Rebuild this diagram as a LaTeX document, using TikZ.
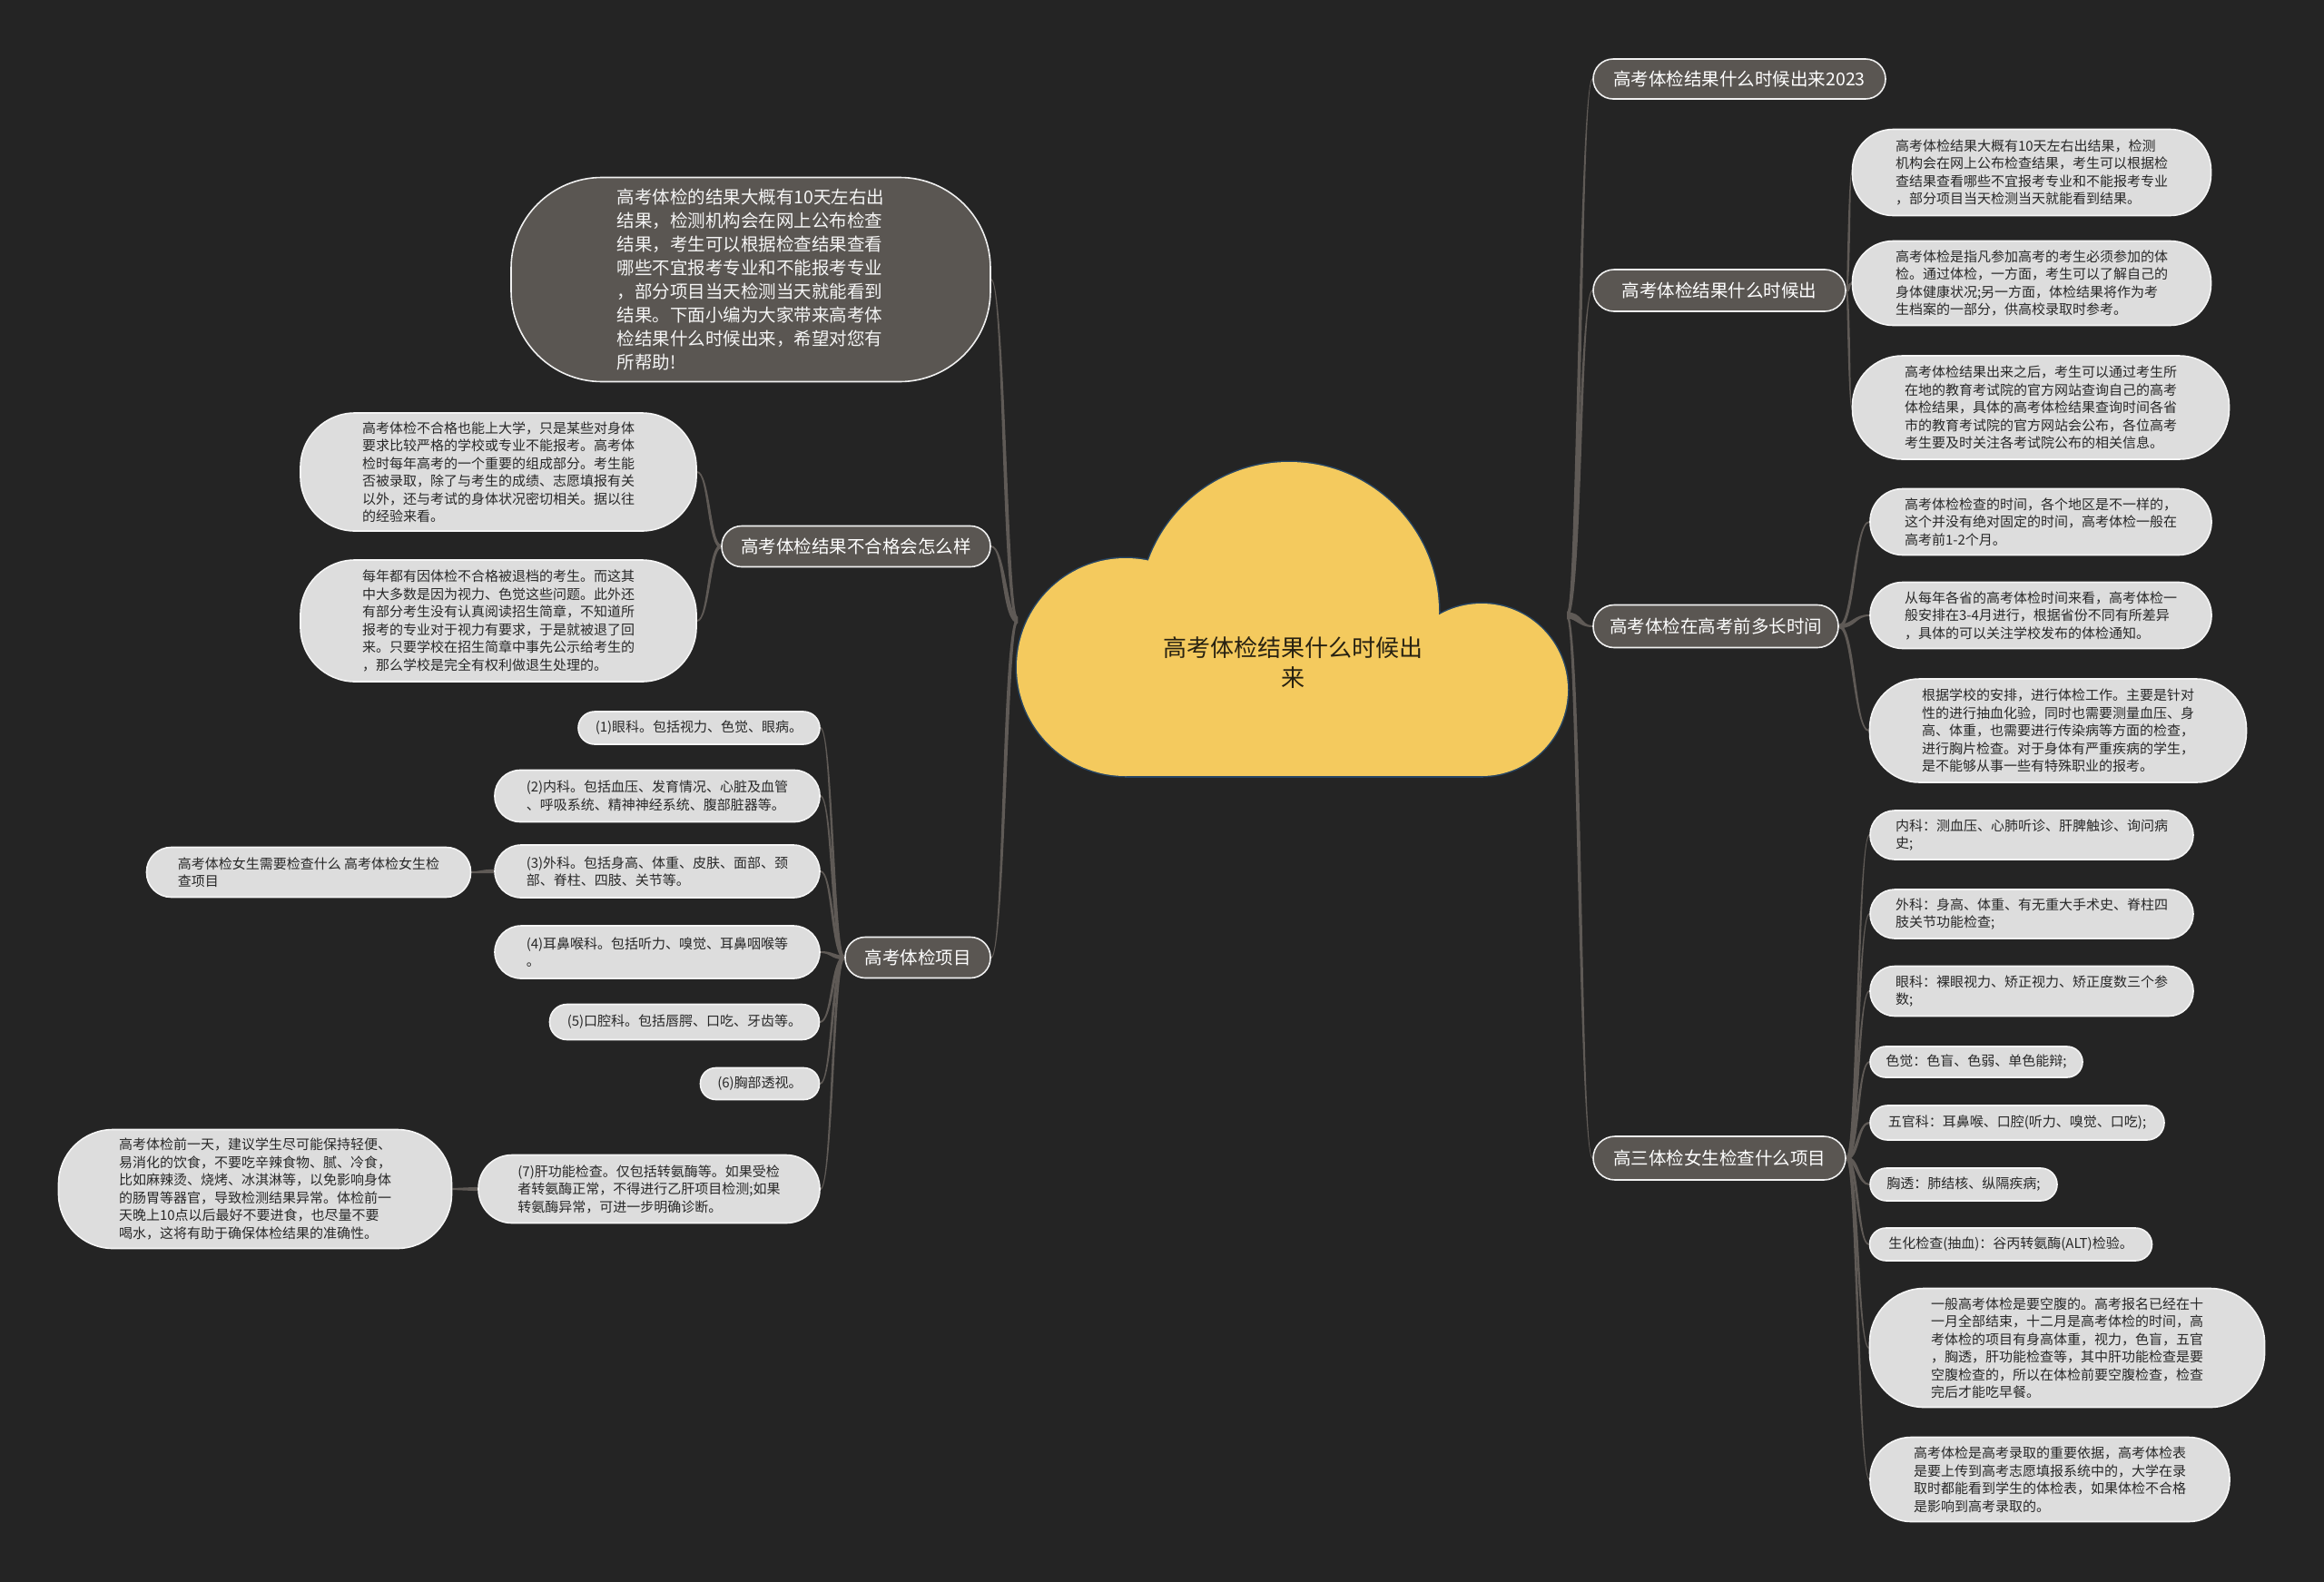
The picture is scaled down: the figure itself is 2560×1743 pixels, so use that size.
\documentclass[tikz,border=0pt]{standalone}
\usepackage{fontspec}
\newfontfamily\cjk{Noto Sans CJK SC}
\usetikzlibrary{calc}
\definecolor{bgc}{RGB}{36,36,36}
\definecolor{mainc}{RGB}{90,86,82}
\definecolor{leafc}{RGB}{221,221,221}
\definecolor{leaftext}{RGB}{40,40,40}
\definecolor{cloudc}{RGB}{244,202,94}
\definecolor{cloudline}{RGB}{40,70,100}
\definecolor{cloudtext}{RGB}{40,34,18}
\definecolor{linkc}{RGB}{95,90,86}
\pgfdeclarelayer{back}
\pgfdeclarelayer{links}
\pgfsetlayers{back,links,main}
\tikzset{
  mainbox/.style={rectangle, draw=white!94!black, line width=1.6, fill=mainc, text=white,
    font=\cjk\fontsize{19.5}{24}\selectfont, inner sep=0, align=center},
  bigbox/.style={rectangle, draw=white!94!black, line width=1.6, fill=mainc, text=white!96!black,
    font=\cjk\fontsize{19.5}{26}\selectfont, inner sep=0, align=left},
  leaf/.style={rectangle, draw=white!96!black, line width=1.6, fill=leafc, text=leaftext,
    font=\cjk\fontsize{15}{19.5}\selectfont, inner sep=0, align=left},
  cloudedge/.style={draw=cloudline, line width=3},
  cloudbody/.style={fill=cloudc},
}
\newcommand\tlink[3]{%
  \path[fill=linkc] let \p1=(#1), \p2=(#2), \n1={0.5*(\x1+\x2)},
    \n2={-sign(\x2-\x1)*sign(\y2-\y1)} in
    (\x1,\y1+#3pt) .. controls (\n1+\n2*#3,\y1+#3pt) and (\n1+\n2*1,\y2+1pt) .. (\x2,\y2+1pt)
    -- (\x2,\y2-1pt) .. controls (\n1-\n2*1,\y2-1pt) and (\n1-\n2*#3,\y1-#3pt) .. (\x1,\y1-#3pt) -- cycle;}
\begin{document}
\begin{tikzpicture}[x=1pt,y=-1pt]
\useasboundingbox (0,0) rectangle (2560,1743);
\begin{pgfonlayer}{back}
\fill[bgc] (0,0) rectangle (2560,1743);
\end{pgfonlayer}

% cloud: outline of the union, then the fill on top
\path[cloudedge] (1240,735) circle (120);
\path[cloudedge] (1420,674) circle (165);
\path[cloudedge] (1632,760) circle (95);
\path[cloudedge] (1240,735) rectangle (1632,855);
\path[cloudbody] (1240,735) circle (120);
\path[cloudbody] (1420,674) circle (165);
\path[cloudbody] (1632,760) circle (95);
\path[cloudbody] (1240,735) rectangle (1632,855);
\node[text=cloudtext, font=\cjk\fontsize{26}{33}\selectfont, align=center, inner sep=0] (root) at (1424,730) {高考体检结果什么时候出\\来};
\coordinate (jl) at (1121,683);
\coordinate (jr) at (1726,678);

% left side
\node[bigbox, minimum width=528, minimum height=225, rounded corners=100] (intro) at (827,308)
{高考体检的结果大概有10天左右出\\结果，检测机构会在网上公布检查\\结果，考生可以根据检查结果查看\\哪些不宜报考专业和不能报考专业\\，部分项目当天检测当天就能看到\\结果。下面小编为大家带来高考体\\检结果什么时候出来，希望对您有\\所帮助!};
\node[mainbox, minimum width=296, minimum height=45, rounded corners=22] (l1) at (943,602) {高考体检结果不合格会怎么样};
\node[mainbox, minimum width=160, minimum height=45, rounded corners=22] (l2) at (1011,1055) {高考体检项目};

\node[leaf, minimum width=436, minimum height=130, rounded corners=60] (l1a) at (549,520)
{高考体检不合格也能上大学，只是某些对身体\\要求比较严格的学校或专业不能报考。高考体\\检时每年高考的一个重要的组成部分。考生能\\否被录取，除了与考生的成绩、志愿填报有关\\以外，还与考试的身体状况密切相关。据以往\\的经验来看。};
\node[leaf, minimum width=436, minimum height=134, rounded corners=60] (l1b) at (549,684)
{每年都有因体检不合格被退档的考生。而这其\\中大多数是因为视力、色觉这些问题。此外还\\有部分考生没有认真阅读招生简章，不知道所\\报考的专业对于视力有要求，于是就被退了回\\来。只要学校在招生简章中事先公示给考生的\\，那么学校是完全有权利做退生处理的。};

\node[leaf, minimum width=266, minimum height=36, rounded corners=18] (l2a) at (770,802) {(1)眼科。包括视力、色觉、眼病。};
\node[leaf, minimum width=358, minimum height=57, rounded corners=28] (l2b) at (724,877) {(2)内科。包括血压、发育情况、心脏及血管\\、呼吸系统、精神神经系统、腹部脏器等。};
\node[leaf, minimum width=358, minimum height=58, rounded corners=29] (l2c) at (724,960) {(3)外科。包括身高、体重、皮肤、面部、颈\\部、脊柱、四肢、关节等。};
\node[leaf, minimum width=357, minimum height=55, rounded corners=27] (l2cc) at (340,961) {高考体检女生需要检查什么 高考体检女生检\\查项目};
\node[leaf, minimum width=358, minimum height=58, rounded corners=29] (l2d) at (724,1049) {(4)耳鼻喉科。包括听力、嗅觉、耳鼻咽喉等\\。};
\node[leaf, minimum width=297, minimum height=39, rounded corners=19] (l2e) at (754,1126) {(5)口腔科。包括唇腭、口吃、牙齿等。};
\node[leaf, minimum width=131, minimum height=35, rounded corners=17] (l2f) at (837,1194) {(6)胸部透视。};
\node[leaf, minimum width=376, minimum height=75, rounded corners=37] (l2g) at (715,1310) {(7)肝功能检查。仅包括转氨酶等。如果受检\\者转氨酶正常，不得进行乙肝项目检测;如果\\转氨酶异常，可进一步明确诊断。};
\node[leaf, minimum width=433, minimum height=131, rounded corners=60] (l2gc) at (281,1310)
{高考体检前一天，建议学生尽可能保持轻便、\\易消化的饮食，不要吃辛辣食物、腻、冷食，\\比如麻辣烫、烧烤、冰淇淋等，以免影响身体\\的肠胃等器官，导致检测结果异常。体检前一\\天晚上10点以后最好不要进食，也尽量不要\\喝水，这将有助于确保体检结果的准确性。};

% right side
\node[mainbox, minimum width=322, minimum height=44, rounded corners=22] (r1) at (1916,87) {高考体检结果什么时候出来2023};
\node[mainbox, minimum width=278, minimum height=46, rounded corners=23] (r2) at (1894,320) {高考体检结果什么时候出};
\node[mainbox, minimum width=270, minimum height=47, rounded corners=23] (r3) at (1890,690) {高考体检在高考前多长时间};
\node[mainbox, minimum width=278, minimum height=48, rounded corners=24] (r4) at (1894,1276) {高三体检女生检查什么项目};

\node[leaf, minimum width=395, minimum height=95, rounded corners=45] (r2a) at (2238,190)
{高考体检结果大概有10天左右出结果，检测\\机构会在网上公布检查结果，考生可以根据检\\查结果查看哪些不宜报考专业和不能报考专业\\，部分项目当天检测当天就能看到结果。};
\node[leaf, minimum width=395, minimum height=93, rounded corners=45] (r2b) at (2238,312)
{高考体检是指凡参加高考的考生必须参加的体\\检。通过体检，一方面，考生可以了解自己的\\身体健康状况;另一方面，体检结果将作为考\\生档案的一部分，供高校录取时参考。};
\node[leaf, minimum width=415, minimum height=114, rounded corners=55] (r2c) at (2248,449)
{高考体检结果出来之后，考生可以通过考生所\\在地的教育考试院的官方网站查询自己的高考\\体检结果，具体的高考体检结果查询时间各省\\市的教育考试院的官方网站会公布，各位高考\\考生要及时关注各考试院公布的相关信息。};

\node[leaf, minimum width=376, minimum height=73, rounded corners=36] (r3a) at (2248,575)
{高考体检检查的时间，各个地区是不一样的，\\这个并没有绝对固定的时间，高考体检一般在\\高考前1-2个月。};
\node[leaf, minimum width=376, minimum height=73, rounded corners=36] (r3b) at (2248,678)
{从每年各省的高考体检时间来看，高考体检一\\般安排在3-4月进行，根据省份不同有所差异\\，具体的可以关注学校发布的体检通知。};
\node[leaf, minimum width=415, minimum height=114, rounded corners=55] (r3c) at (2267,805)
{根据学校的安排，进行体检工作。主要是针对\\性的进行抽血化验，同时也需要测量血压、身\\高、体重，也需要进行传染病等方面的检查，\\进行胸片检查。对于身体有严重疾病的学生，\\是不能够从事一些有特殊职业的报考。};

\node[leaf, minimum width=356, minimum height=54, rounded corners=27] (r4a) at (2238,920) {内科：测血压、心肺听诊、肝脾触诊、询问病\\史;};
\node[leaf, minimum width=356, minimum height=54, rounded corners=27] (r4b) at (2238,1007) {外科：身高、体重、有无重大手术史、脊柱四\\肢关节功能检查;};
\node[leaf, minimum width=356, minimum height=55, rounded corners=27] (r4c) at (2238,1092) {眼科：裸眼视力、矫正视力、矫正度数三个参\\数;};
\node[leaf, minimum width=234, minimum height=34, rounded corners=17] (r4d) at (2177,1170) {色觉：色盲、色弱、单色能辩;};
\node[leaf, minimum width=324, minimum height=38, rounded corners=19] (r4e) at (2222,1237) {五官科：耳鼻喉、口腔(听力、嗅觉、口吃);};
\node[leaf, minimum width=206, minimum height=36, rounded corners=18] (r4f) at (2163,1305) {胸透：肺结核、纵隔疾病;};
\node[leaf, minimum width=311, minimum height=36, rounded corners=18] (r4g) at (2215,1371) {生化检查(抽血)：谷丙转氨酶(ALT)检验。};
\node[leaf, minimum width=435, minimum height=131, rounded corners=60] (r4h) at (2277,1485)
{一般高考体检是要空腹的。高考报名已经在十\\一月全部结束，十二月是高考体检的时间，高\\考体检的项目有身高体重，视力，色盲，五官\\，胸透，肝功能检查等，其中肝功能检查是要\\空腹检查的，所以在体检前要空腹检查，检查\\完后才能吃早餐。};
\node[leaf, minimum width=396, minimum height=93, rounded corners=45] (r4i) at (2258,1630)
{高考体检是高考录取的重要依据，高考体检表\\是要上传到高考志愿填报系统中的，大学在录\\取时都能看到学生的体检表，如果体检不合格\\是影响到高考录取的。};

% connectors
\begin{pgfonlayer}{links}
\tlink{jl}{intro.east}{3.5}
\tlink{jl}{l1.east}{3.5}
\tlink{jl}{l2.east}{3.5}
\tlink{jr}{r1.west}{3.5}
\tlink{jr}{r2.west}{3.5}
\tlink{jr}{r3.west}{3.5}
\tlink{jr}{r4.west}{3.5}
\tlink{l1.west}{l1a.east}{2.2}
\tlink{l1.west}{l1b.east}{2.2}
\tlink{l2.west}{l2a.east}{2.2}
\tlink{l2.west}{l2b.east}{2.2}
\tlink{l2.west}{l2c.east}{2.2}
\tlink{l2.west}{l2d.east}{2.2}
\tlink{l2.west}{l2e.east}{2.2}
\tlink{l2.west}{l2f.east}{2.2}
\tlink{l2.west}{l2g.east}{2.2}
\tlink{l2c.west}{l2cc.east}{2.2}
\tlink{l2g.west}{l2gc.east}{2.2}
\tlink{r2.east}{r2a.west}{2.2}
\tlink{r2.east}{r2b.west}{2.2}
\tlink{r2.east}{r2c.west}{2.2}
\tlink{r3.east}{r3a.west}{2.2}
\tlink{r3.east}{r3b.west}{2.2}
\tlink{r3.east}{r3c.west}{2.2}
\tlink{r4.east}{r4a.west}{2.2}
\tlink{r4.east}{r4b.west}{2.2}
\tlink{r4.east}{r4c.west}{2.2}
\tlink{r4.east}{r4d.west}{2.2}
\tlink{r4.east}{r4e.west}{2.2}
\tlink{r4.east}{r4f.west}{2.2}
\tlink{r4.east}{r4g.west}{2.2}
\tlink{r4.east}{r4h.west}{2.2}
\tlink{r4.east}{r4i.west}{2.2}
\end{pgfonlayer}
\end{tikzpicture}
\end{document}
